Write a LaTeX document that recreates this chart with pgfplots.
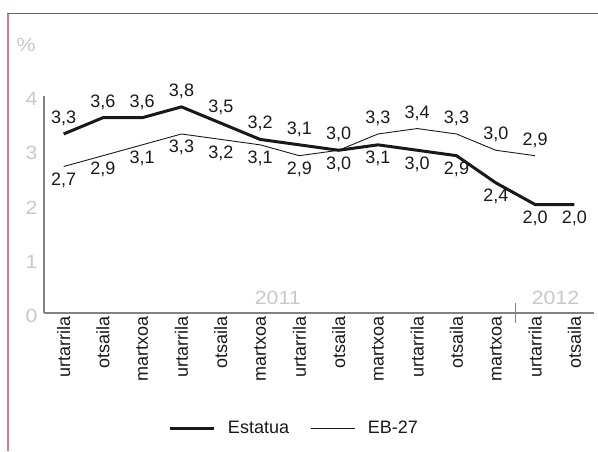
\documentclass[border=0pt]{standalone}
\usepackage{pgfplots}
\pgfplotsset{compat=1.18}
\usepackage{fontspec}
\setmainfont{Liberation Sans}
\newfontfamily\grayfont[FakeStretch=1.12]{Liberation Sans}
\definecolor{framec}{RGB}{192,58,88}
\definecolor{framel}{RGB}{212,122,140}
\definecolor{lightg}{RGB}{200,200,200}
\definecolor{axg}{RGB}{130,130,130}
\definecolor{txt}{RGB}{25,25,25}
\begin{document}
\begin{tikzpicture}[x=1pt,y=1pt,font=\fontsize{18}{21}\selectfont]
\path[use as bounding box] (0,0) rectangle (598,-451);
\draw[framec, line width=1.5pt] (7,-13.5) -- (598,-13.5);
\draw[framel, line width=2pt] (8,-13.5) -- (8,-451);
\node[lightg, font=\grayfont\fontsize{19}{22}\selectfont] at (26,-45) {\%};
\begin{axis}[
  at={(44pt,-313pt)}, anchor=south west,
  scale only axis, width=550pt, height=217pt,
  xmin=-0.5, xmax=13.5, ymin=0, ymax=4,
  axis x line*=bottom, axis y line*=left,
  axis line style={axg, line width=1.2pt},
  xtick={0,...,13},
  xticklabels={urtarrila,otsaila,martxoa,urtarrila,otsaila,martxoa,urtarrila,otsaila,martxoa,urtarrila,otsaila,martxoa,urtarrila,otsaila},
  x tick label style={rotate=90, anchor=east, text=txt},
  ytick={0,1,2,3,4},
  y tick label style={text=lightg, font=\grayfont\fontsize{19}{22}\selectfont, xshift=-3pt, yshift=-3pt},
  /pgf/number format/assume math mode=true,
  major tick length=0pt,
  tick style={draw=none},
  clip=false,
  legend style={at={(0.4536,-0.530)}, anchor=center, draw=none, fill=none,
    text=txt, nodes={inner sep=0pt},
    /tikz/every odd column/.append style={column sep=12pt},
    /tikz/every even column/.append style={column sep=22pt}},
  legend columns=2,
  legend image code/.code={\draw[#1] (0pt,0pt) -- (44pt,0pt);},
]
\addplot[color=txt, line width=3pt, mark=none] coordinates {
(0,3.3) (1,3.6) (2,3.6) (3,3.8) (4,3.5) (5,3.2) (6,3.1) (7,3.0) (8,3.1) (9,3.0) (10,2.9) (11,2.4) (12,2.0) (13,2.0)};
\addlegendentry{Estatua}
\addplot[color=txt, line width=0.9pt, mark=none] coordinates {
(0,2.7) (1,2.9) (2,3.1) (3,3.3) (4,3.2) (5,3.1) (6,2.9) (7,3.0) (8,3.3) (9,3.4) (10,3.3) (11,3.0) (12,2.9)};
\addlegendentry{EB-27}
% labels above
\addplot[draw=none, mark=none, forget plot, point meta=explicit symbolic,
  nodes near coords, nodes near coords align={above},
  every node near coord/.append style={inner sep=0pt, yshift=8pt, text=txt}] coordinates {
(0,3.3) [3,3] (1,3.6) [3,6] (2,3.6) [3,6] (3,3.8) [3,8] (4,3.5) [3,5] (5,3.2) [3,2] (6,3.1) [3,1] (7,3.0) [3,0]
(8,3.3) [3,3] (9,3.4) [3,4] (10,3.3) [3,3] (11,3.0) [3,0] (12,2.9) [2,9]};
% labels below
\addplot[draw=none, mark=none, forget plot, point meta=explicit symbolic,
  nodes near coords, nodes near coords align={below},
  every node near coord/.append style={inner sep=0pt, yshift=-6pt, text=txt}] coordinates {
(0,2.7) [2,7] (1,2.9) [2,9] (2,3.1) [3,1] (3,3.3) [3,3] (4,3.2) [3,2] (5,3.1) [3,1] (6,2.9) [2,9] (7,3.0) [3,0]
(8,3.1) [3,1] (9,3.0) [3,0] (10,2.9) [2,9] (11,2.4) [2,4] (12,2.0) [2,0] (13,2.0) [2,0]};
\draw[axg, line width=1.2pt] (axis cs:11.5,0.185) -- (axis cs:11.5,-0.185);
\node[lightg, font=\grayfont\fontsize{19}{22}\selectfont] at (axis cs:5.45,0.28) {2011};
\node[lightg, font=\grayfont\fontsize{19}{22}\selectfont] at (axis cs:12.52,0.28) {2012};
\end{axis}
\end{tikzpicture}
\end{document}
